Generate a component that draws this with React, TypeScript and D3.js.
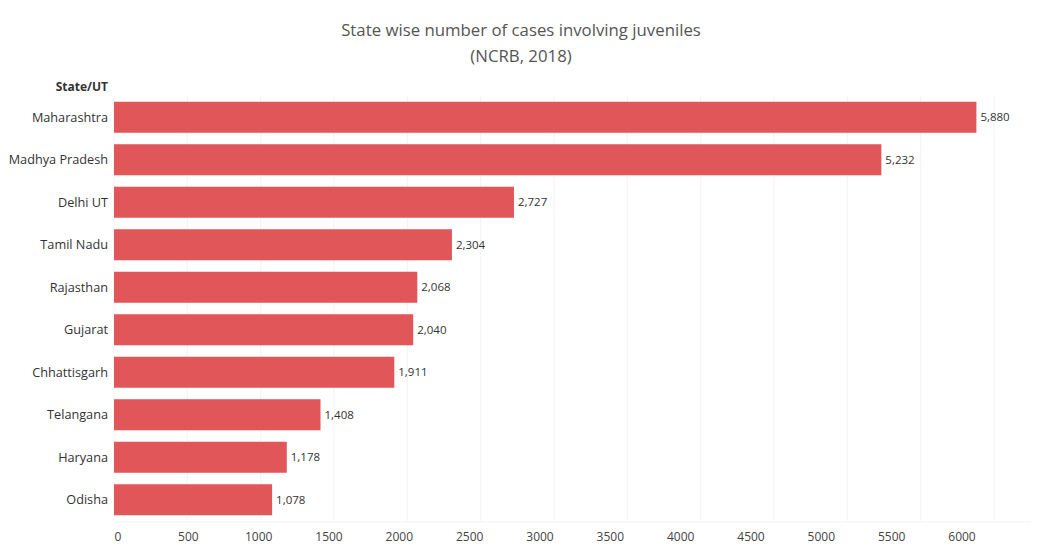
import React from "react";
import * as d3 from "d3";

const states = ["Maharashtra", "Madhya Pradesh", "Delhi UT", "Tamil Nadu", "Rajasthan", "Gujarat", "Chhattisgarh", "Telangana", "Haryana", "Odisha"];
const cases = [5880, 5232, 2727, 2304, 2068, 2040, 1911, 1408, 1178, 1078];
const tickValues = [0, 500, 1000, 1500, 2000, 2500, 3000, 3500, 4000, 4500, 5000, 5500, 6000];
const titleLines = ["State wise number of cases involving juveniles", "(NCRB, 2018)"];
const axisHeader = "State/UT";

const W = 1043;
const H = 546;
const FONT = "'Open Sans', 'Noto Sans', sans-serif";

export default function App() {
  const x = d3.scaleLinear().domain([0, 6000]).range([114, 994]);
  // tick labels as positioned in the reference
  const xLabel = d3.scaleLinear().domain([0, 6000]).range([118, 962]);
  const y = d3.scaleBand<string>().domain(states).range([96, 521]).paddingInner(0.27).paddingOuter(0.135);
  const fmt = d3.format(",");

  return (
    <svg width={W} height={H} style={{ position: "absolute", left: 0, top: 0, background: "#fff" }} fontFamily={FONT}>
      <g>
        {titleLines.map((t, i) => (
          <text key={t} x={521} y={36 + i * 26} textAnchor="middle" fontSize={16.8} fill="#555">
            {t}
          </text>
        ))}
      </g>
      <g>
        {tickValues.map((v) => (
          <line key={"g" + v} x1={x(v)} x2={x(v)} y1={96} y2={521} stroke="#f3f3f3" strokeWidth={1} />
        ))}
        <line x1={114} x2={1030} y1={522} y2={522} stroke="#f3f3f3" />
      </g>
      <text x={108} y={91} textAnchor="end" fontSize={12} fontWeight="bold" fill="#333">
        {axisHeader}
      </text>
      <g>
        {states.map((s, i) => {
          const yy = y(s) as number;
          const bw = y.bandwidth();
          return (
            <g key={s}>
              <rect x={x(0)} y={yy} width={x(cases[i]) - x(0)} height={bw} fill="#E15759" />
              <text x={108} y={yy + bw / 2} dy="0.35em" textAnchor="end" fontSize={12.7} fill="#333">
                {s}
              </text>
              <text x={x(cases[i]) + 4} y={yy + bw / 2} dy="0.35em" textAnchor="start" fontSize={11.5} fill="#333">
                {fmt(cases[i])}
              </text>
            </g>
          );
        })}
      </g>
      <g>
        {tickValues.map((v) => (
          <text key={"t" + v} x={xLabel(v)} y={541} textAnchor="middle" fontSize={12} fill="#444">
            {v}
          </text>
        ))}
      </g>
    </svg>
  );
}
